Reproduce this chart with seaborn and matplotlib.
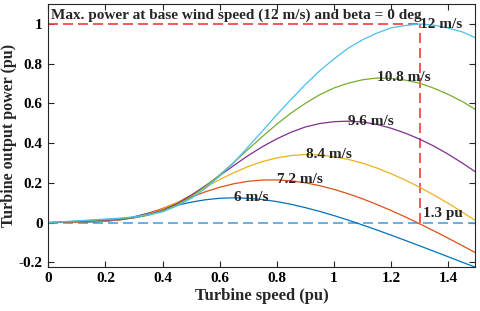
import pandas as pd
import seaborn as sns
import matplotlib.pyplot as plt

# turbine speed (pu) and output power (pu)
turbine_speed = [0.00, 0.05, 0.10, 0.15, 0.20, 0.25, 0.30, 0.35, 0.40, 0.45,
                 0.50, 0.55, 0.60, 0.65, 0.70, 0.75, 0.80, 0.85, 0.90, 0.95,
                 1.00, 1.05, 1.10, 1.15, 1.20, 1.25, 1.30, 1.35, 1.40, 1.45, 1.50]

power_6 = [0, 0.0011, 0.0022, 0.0036, 0.0068, 0.0152, 0.0294, 0.0478, 0.0680, 0.0870,
           0.1030, 0.1150, 0.1225, 0.1248, 0.1224, 0.1159, 0.1057, 0.0919, 0.0752, 0.0561,
           0.0351, 0.0122, -0.0121, -0.0373, -0.0634, -0.0901, -0.1173, -0.1448, -0.1724, -0.2001, -0.2277]
power_7_2 = [0, 0.0016, 0.0032, 0.0049, 0.0075, 0.0138, 0.0263, 0.0459, 0.0713, 0.0999,
             0.1286, 0.1553, 0.1780, 0.1958, 0.2080, 0.2143, 0.2150, 0.2101, 0.2003, 0.1858,
             0.1671, 0.1449, 0.1195, 0.0912, 0.0606, 0.0279, -0.0065, -0.0423, -0.0793, -0.1171, -0.1557]
power_8_4 = [0, 0.0022, 0.0043, 0.0066, 0.0093, 0.0143, 0.0244, 0.0417, 0.0675, 0.1005,
             0.1388, 0.1785, 0.2169, 0.2521, 0.2827, 0.3075, 0.3259, 0.3377, 0.3429, 0.3406,
             0.3321, 0.3180, 0.2987, 0.2744, 0.2458, 0.2133, 0.1774, 0.1382, 0.0962, 0.0517, 0.0053]
power_9_6 = [0, 0.0028, 0.0057, 0.0085, 0.0116, 0.0155, 0.0240, 0.0391, 0.0623, 0.0947,
             0.1376, 0.1858, 0.2367, 0.2884, 0.3380, 0.3827, 0.4220, 0.4552, 0.4817, 0.4986,
             0.5080, 0.5105, 0.5061, 0.4941, 0.4747, 0.4498, 0.4196, 0.3843, 0.3435, 0.2985, 0.2501]
power_10_8 = [0, 0.0036, 0.0072, 0.0108, 0.0144, 0.0190, 0.0254, 0.0370, 0.0588, 0.0887,
              0.1295, 0.1825, 0.2409, 0.3042, 0.3701, 0.4342, 0.4961, 0.5521, 0.6009, 0.6439,
              0.6778, 0.7019, 0.7190, 0.7278, 0.7255, 0.7168, 0.7015, 0.6759, 0.6448, 0.6084, 0.5640]
power_12 = [0, 0.0044, 0.0088, 0.0133, 0.0178, 0.0226, 0.0287, 0.0396, 0.0540, 0.0840,
            0.1217, 0.1720, 0.2352, 0.3041, 0.3824, 0.4624, 0.5437, 0.6213, 0.6958, 0.7647,
            0.8242, 0.8785, 0.9203, 0.9539, 0.9803, 0.9922, 0.9995, 0.9938, 0.9791, 0.9589, 0.9272]

wind_labels = ["6 m/s", "7.2 m/s", "8.4 m/s", "9.6 m/s", "10.8 m/s", "12 m/s"]
curves = [power_6, power_7_2, power_8_4, power_9_6, power_10_8, power_12]
colors = ["#0072BD", "#D95319", "#EDB120", "#7E2F8E", "#77AC30", "#4DBEEE"]

base_speed = 1.3
xticks = [0, 0.2, 0.4, 0.6, 0.8, 1.0, 1.2, 1.4]
xtick_labels = ["0", "0.2", "0.4", "0.6", "0.8", "1", "1.2", "1.4"]
yticks = [-0.2, 0, 0.2, 0.4, 0.6, 0.8, 1.0]
ytick_labels = ["-0.2", "0", "0.2", "0.4", "0.6", "0.8", "1"]

rows = []
for label, vals in zip(wind_labels, curves):
    for s, p in zip(turbine_speed, vals):
        rows.append({"speed": s, "power": p, "wind": label})
df = pd.DataFrame(rows)

sns.set_style("ticks")
plt.rcParams["font.family"] = ["Liberation Serif", "DejaVu Serif"]
plt.rcParams["font.weight"] = "bold"
plt.rcParams["axes.labelweight"] = "bold"

fig = plt.figure(figsize=(4.8, 3.11), dpi=100)
ax = fig.add_axes([0.1006, 0.1424, 0.8890, 0.8446])

# reference lines
ax.axhline(0, color="#4DA3E0", lw=1.2, dashes=(6, 3), zorder=1)
ax.plot([0, base_speed], [1, 1], color="#F03C3C", lw=1.2, dashes=(6, 3), zorder=1)
ax.plot([base_speed, base_speed], [0, 1], color="#F03C3C", lw=1.2, dashes=(6, 3), zorder=1)

sns.lineplot(data=df, x="speed", y="power", hue="wind", hue_order=wind_labels,
             palette=colors, linewidth=0.9, legend=False, ax=ax, zorder=2)

# curve labels at each peak
for label, vals in zip(wind_labels, curves):
    i = vals.index(max(vals))
    ax.text(turbine_speed[i], vals[i], label, ha="left", va="center",
            fontsize=11, fontweight="bold", zorder=3)

ax.text(base_speed + 0.01, 0.045, "1.3 pu", ha="left", va="center",
        fontsize=11, fontweight="bold")
ax.text(0.01, 1.045, "Max. power at base wind speed (12 m/s) and beta = 0 deg",
        ha="left", va="center", fontsize=11, fontweight="bold")

ax.set_xlim(0, 1.493)
ax.set_ylim(-0.222, 1.1)
ax.set_xticks(xticks)
ax.set_xticklabels(xtick_labels)
ax.set_yticks(yticks)
ax.set_yticklabels(ytick_labels)
ax.tick_params(direction="in", top=True, right=True, length=4, width=0.8,
               labelsize=11, pad=4, colors="#262626", labelcolor="black")
for sp in ax.spines.values():
    sp.set_visible(True)
    sp.set_color("#262626")
    sp.set_linewidth(0.8)

ax.set_xlabel("Turbine speed (pu)", fontsize=12, fontweight="bold", labelpad=2)
ax.set_ylabel("Turbine output power (pu)", fontsize=11.5, fontweight="bold", labelpad=1)

fig.savefig("out.png", dpi=100)
